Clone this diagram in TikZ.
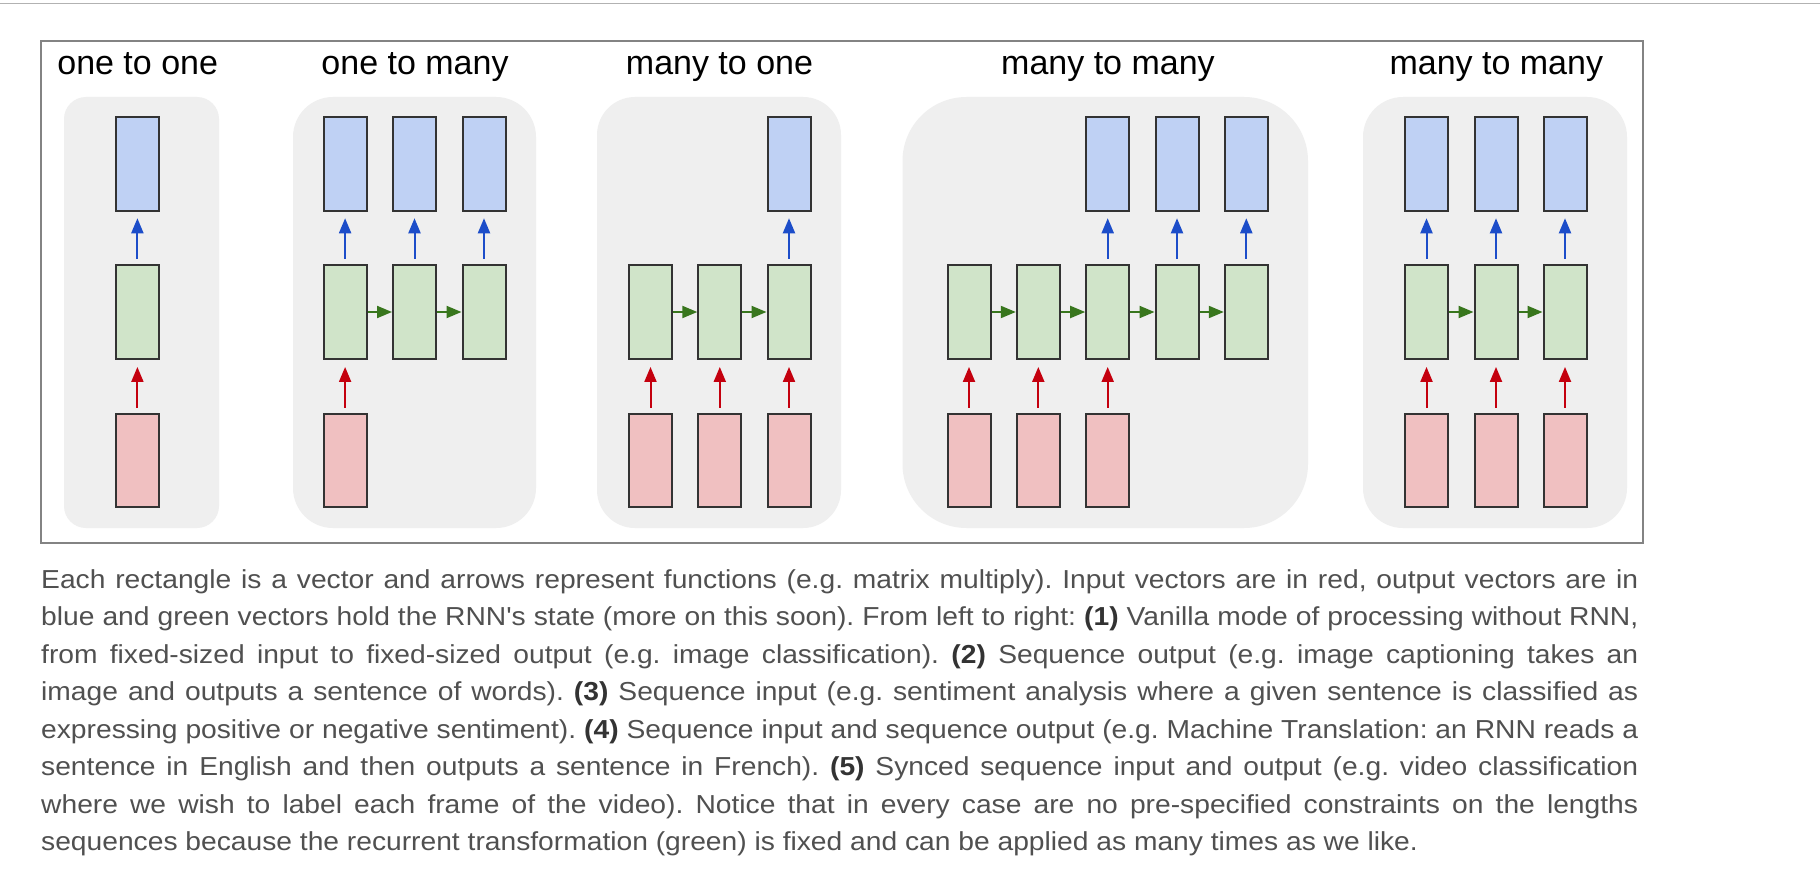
\documentclass[tikz,border=0pt]{standalone}
\usepackage{fontspec}
\usetikzlibrary{arrows.meta}
\newfontfamily\titlefont{Liberation Sans}
\newfontfamily\bodyfont{Liberation Sans}[FakeStretch=1.085]
\definecolor{bfill}{HTML}{BFD1F4}
\definecolor{gfill}{HTML}{D0E4C9}
\definecolor{rfill}{HTML}{F0C0C1}
\definecolor{boxline}{HTML}{333333}
\definecolor{barrowc}{HTML}{1C4DC9}
\definecolor{rarrowc}{HTML}{C4000E}
\definecolor{garrowc}{HTML}{38761D}
\definecolor{panelc}{HTML}{EFEFEF}
\definecolor{framec}{HTML}{838383}
\definecolor{textc}{HTML}{505050}
\definecolor{textb}{HTML}{333333}
\newcommand{\bnum}[1]{{\color{textb}\bfseries #1}}
\frenchspacing
\begin{document}
\begin{tikzpicture}[x=1pt,y=-1pt,
  vec/.style={draw=boxline, line width=2pt, minimum width=43pt, minimum height=93.3pt, inner sep=0pt},
  bvec/.style={vec, fill=bfill},
  gvec/.style={vec, fill=gfill},
  rvec/.style={vec, fill=rfill},
  arr/.style={line width=2pt, -{Triangle[length=15pt,width=12pt]}},
  barr/.style={arr, draw=barrowc, fill=barrowc, shorten <=5.7pt, shorten >=6.6pt},
  rarr/.style={arr, draw=rarrowc, fill=rarrowc, shorten <=5.3pt, shorten >=7.3pt},
  garr/.style={arr, draw=garrowc, fill=garrowc},
  panel/.style={fill=panelc},
  ttl/.style={anchor=base, inner sep=0pt, font=\titlefont\fontsize{34}{40}\selectfont, text=black},
  txt/.style={anchor=base west, inner sep=0pt, font=\bodyfont\fontsize{26}{30}\selectfont\frenchspacing, text=textc}
]
\useasboundingbox (0,0) rectangle (1820,888);
\fill[white] (0,0) rectangle (1820,888);
\draw[draw=black!30, line width=1.5pt] (0,3.3) -- (1820,3.3);
\draw[draw=framec, line width=1.6pt] (41,41) rectangle (1643,543);

% panels
\fill[panel, rounded corners=22pt] (64,97) rectangle (219,528);
\fill[panel, rounded corners=40pt] (293,97) rectangle (536,528);
\fill[panel, rounded corners=38pt] (597,97) rectangle (841,528);
\fill[panel, rounded corners=64pt] (902.5,97) rectangle (1308,528);
\fill[panel, rounded corners=40pt] (1363,97) rectangle (1627,528);

% titles
\node[ttl] (h1) at (137.7,74.5) {one to one};
\node[ttl] (h2) at (415,74.5) {one to many};
\node[ttl] (h3) at (719.5,74.5) {many to one};
\node[ttl] (h4) at (1108,74.5) {many to many};
\node[ttl] (h5) at (1496.3,74.5) {many to many};

% panel 1
\node[bvec] (b11) at (137.4,164) {};
\node[gvec] (g11) at (137.4,312) {};
\node[rvec] (r11) at (137.4,460.7) {};
\draw[barr] (g11.north) -- (b11.south);
\draw[rarr] (r11.north) -- (g11.south);

% panel 2
\node[bvec] (b21) at (345.1,164) {};
\node[bvec] (b22) at (414.5,164) {};
\node[bvec] (b23) at (484,164) {};
\node[gvec] (g21) at (345.1,312) {};
\node[gvec] (g22) at (414.5,312) {};
\node[gvec] (g23) at (484,312) {};
\node[rvec] (r21) at (345.1,460.7) {};
\draw[barr] (g21.north) -- (b21.south);
\draw[barr] (g22.north) -- (b22.south);
\draw[barr] (g23.north) -- (b23.south);
\draw[garr] (g21.east) -- (g22.west);
\draw[garr] (g22.east) -- (g23.west);
\draw[rarr] (r21.north) -- (g21.south);

% panel 3
\node[bvec] (b33) at (789,164) {};
\node[gvec] (g31) at (650.5,312) {};
\node[gvec] (g32) at (719.8,312) {};
\node[gvec] (g33) at (789,312) {};
\node[rvec] (r31) at (650.5,460.7) {};
\node[rvec] (r32) at (719.8,460.7) {};
\node[rvec] (r33) at (789,460.7) {};
\draw[barr] (g33.north) -- (b33.south);
\draw[garr] (g31.east) -- (g32.west);
\draw[garr] (g32.east) -- (g33.west);
\draw[rarr] (r31.north) -- (g31.south);
\draw[rarr] (r32.north) -- (g32.south);
\draw[rarr] (r33.north) -- (g33.south);

% panel 4
\node[bvec] (b43) at (1107.7,164) {};
\node[bvec] (b44) at (1177,164) {};
\node[bvec] (b45) at (1246.3,164) {};
\node[gvec] (g41) at (969,312) {};
\node[gvec] (g42) at (1038.3,312) {};
\node[gvec] (g43) at (1107.7,312) {};
\node[gvec] (g44) at (1177,312) {};
\node[gvec] (g45) at (1246.3,312) {};
\node[rvec] (r41) at (969,460.7) {};
\node[rvec] (r42) at (1038.3,460.7) {};
\node[rvec] (r43) at (1107.7,460.7) {};
\draw[barr] (g43.north) -- (b43.south);
\draw[barr] (g44.north) -- (b44.south);
\draw[barr] (g45.north) -- (b45.south);
\draw[garr] (g41.east) -- (g42.west);
\draw[garr] (g42.east) -- (g43.west);
\draw[garr] (g43.east) -- (g44.west);
\draw[garr] (g44.east) -- (g45.west);
\draw[rarr] (r41.north) -- (g41.south);
\draw[rarr] (r42.north) -- (g42.south);
\draw[rarr] (r43.north) -- (g43.south);

% panel 5
\node[bvec] (b51) at (1426.5,164) {};
\node[bvec] (b52) at (1496,164) {};
\node[bvec] (b53) at (1565,164) {};
\node[gvec] (g51) at (1426.5,312) {};
\node[gvec] (g52) at (1496,312) {};
\node[gvec] (g53) at (1565,312) {};
\node[rvec] (r51) at (1426.5,460.7) {};
\node[rvec] (r52) at (1496,460.7) {};
\node[rvec] (r53) at (1565,460.7) {};
\draw[barr] (g51.north) -- (b51.south);
\draw[barr] (g52.north) -- (b52.south);
\draw[barr] (g53.north) -- (b53.south);
\draw[garr] (g51.east) -- (g52.west);
\draw[garr] (g52.east) -- (g53.west);
\draw[rarr] (r51.north) -- (g51.south);
\draw[rarr] (r52.north) -- (g52.south);
\draw[rarr] (r53.north) -- (g53.south);

% caption
\node[txt] (t1) at (41,588) {\makebox[1597pt][s]{Each rectangle is a vector and arrows represent functions (e.g. matrix multiply). Input vectors are in red, output vectors are in}};
\node[txt] (t2) at (41,625.5) {\makebox[1597pt][s]{blue and green vectors hold the RNN's state (more on this soon). From left to right: \bnum{(1)} Vanilla mode of processing without RNN,}};
\node[txt] (t3) at (41,663) {\makebox[1597pt][s]{from fixed-sized input to fixed-sized output (e.g. image classification). \bnum{(2)} Sequence output (e.g. image captioning takes an}};
\node[txt] (t4) at (41,700.5) {\makebox[1597pt][s]{image and outputs a sentence of words). \bnum{(3)} Sequence input (e.g. sentiment analysis where a given sentence is classified as}};
\node[txt] (t5) at (41,738) {\makebox[1597pt][s]{expressing positive or negative sentiment). \bnum{(4)} Sequence input and sequence output (e.g. Machine Translation: an RNN reads a}};
\node[txt] (t6) at (41,775.5) {\makebox[1597pt][s]{sentence in English and then outputs a sentence in French). \bnum{(5)} Synced sequence input and output (e.g. video classification}};
\node[txt] (t7) at (41,813) {\makebox[1597pt][s]{where we wish to label each frame of the video). Notice that in every case are no pre-specified constraints on the lengths}};
\node[txt] (t8) at (41,850.5) {sequences because the recurrent transformation (green) is fixed and can be applied as many times as we like.};
\end{tikzpicture}
\end{document}
